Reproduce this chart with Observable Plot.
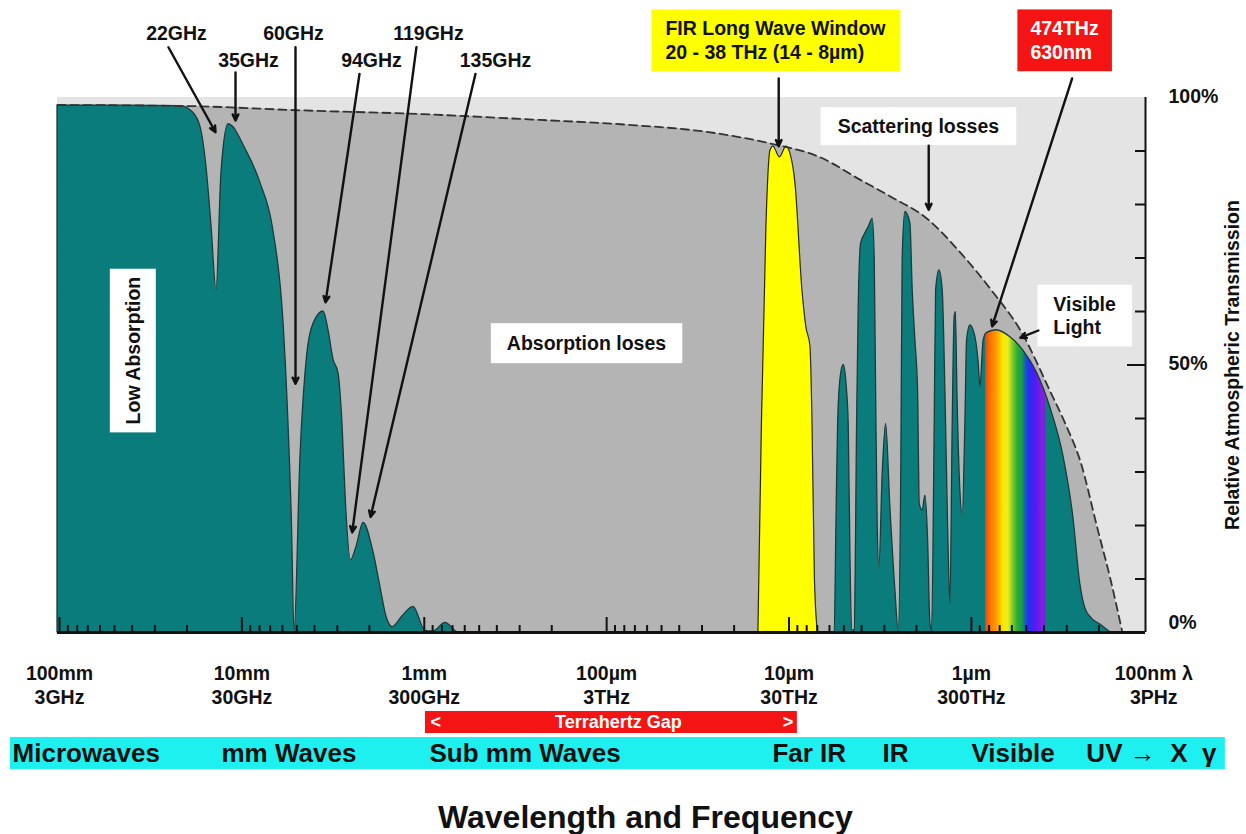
<!DOCTYPE html>
<html>
<head>
<meta charset="utf-8">
<script src="https://cdn.jsdelivr.net/npm/d3@7"></script>
<script src="https://cdn.jsdelivr.net/npm/@observablehq/plot@0.6"></script>
<style>
  html, body { margin: 0; padding: 0; background: #fff; overflow: hidden; }
  #chart svg { display: block; }
</style>
</head>
<body>
<div id="chart"></div>
<script>
// x: wavelength in µm (log scale, decreasing to the right); y: relative atmospheric transmission in %

// Atmospheric transmission (teal), [wavelength µm, %]
const transmission = [
  [102600, 98.5], [46300, 98.5], [21710, 98.4], [18660, 97.3], [16870, 94.5], [15640, 87],
  [14680, 76], [13780, 64], [12940, 86], [11840, 95], [9436, 90], [7907, 84], [6710, 75],
  [5914, 58], [5553, 39], [5313, 20], [5148, 0],
  [4772, 33], [4397, 51.5], [4051, 57.7], [3569, 60], [3351, 56.5], [3147, 51], [2954, 48.5],
  [2809, 39], [2687, 24], [2523, 13.5], [2353, 16], [2154, 20.5], [1899, 15], [1739, 8.5],
  [1612, 3], [1494, 1], [1317, 3], [1146, 4.8], [985, 0.3], [890, 0.2], [765, 1.8], [649, 0],
  [5.617, 0], [5.497, 20], [5.381, 39], [5.195, 48], [5.014, 50], [4.827, 46], [4.707, 39],
  [4.607, 15], [4.509, 0.3],
  [4.363, 0.5], [4.233, 39], [4.148, 60.8], [4.024, 72.7], [3.812, 74.6], [3.656, 75.8],
  [3.476, 77.3], [3.39, 70], [3.33, 45], [3.264, 20], [3.195, 12.2],
  [3.064, 29.7], [2.936, 39], [2.781, 23.4], [2.61, 7.8], [2.504, 0.3],
  [2.42, 32.8], [2.381, 70], [2.301, 78.6], [2.16, 76.4], [2.098, 64], [2.028, 54.6],
  [1.96, 45.2], [1.92, 24], [1.849, 22.8], [1.787, 25.6], [1.727, 17.2], [1.678, 1.7], [1.643, 0.3],
  [1.589, 39], [1.561, 64], [1.497, 67.7], [1.437, 64], [1.388, 45], [1.342, 20], [1.303, 5.4],
  [1.266, 39], [1.235, 59], [1.216, 59.9], [1.193, 45], [1.149, 26.5], [1.116, 22],
  [1.079, 39], [1.056, 54.6], [1.013, 57.4], [0.9507, 55.2], [0.912, 50.3], [0.8929, 45.9],
  [0.8563, 54.6], [0.8202, 56], [0.7294, 56.5],
  [0.6111, 55.2], [0.5187, 52.7], [0.4346, 48.4], [0.3688, 42], [0.313, 33], [0.2759, 21.5],
  [0.2526, 9], [0.2371, 4.5], [0.2171, 2.5], [0.1963, 1.5], [0.1729, 0]
];

// FIR long wave window (yellow), [wavelength µm, %]
const firWindow = [
  [14.72, 0], [14.08, 39], [13.3, 76], [12.65, 90], [12.18, 90.8], [11.22, 88.8], [10.33, 90.8],
  [9.825, 89.5], [9.224, 84], [8.444, 64], [8.028, 57], [7.632, 53.5], [7.441, 40], [7.211, 10], [6.944, 0]
];

// Scattering-loss envelope (dashed), [wavelength µm, %]
const scatterEnvelope = [
  [102600, 98.6], [19870, 98.4], [4772, 97.6], [1049, 96.9], [230.7, 95.8], [84.03, 95.0],
  [23.78, 93.2], [12.65, 91.4], [6.729, 88.8], [4.06, 84.6], [2.781, 81.5], [1.743, 77.3],
  [1.149, 71], [0.7575, 63.5], [0.5387, 56.5], [0.3688, 45], [0.3052, 39], [0.2526, 32],
  [0.2038, 19.5], [0.1729, 10], [0.1486, 0]
];

// Visible band drawn in rainbow colours (µm)
const visibleBand = [0.84, 0.39];

// Axis ticks and labels
const decadeTicks = [1e5, 1e4, 1e3, 100, 10, 1, 0.1];
const decadeLabels = ["100mm\n3GHz", "10mm\n30GHz", "1mm\n300GHz", "100µm\n3THz", "10µm\n30THz", "1µm\n300THz", "100nm λ\n3PHz"];
const minorMultipliers = [2, 3, 4, 5, 6, 7, 8, 9];
const pctTicks = [10, 20, 30, 40, 50, 60, 70, 80, 90];
const pctLabels = [[100, "100%"], [50, "50%"]];
const zeroLabel = [[0, "0%"]];

// Absorption lines: label, label position, arrow start, arrow end
const lineNotes = [
  {text: "22GHz",  lx: 22840, ly: 111.9, x1: 25290, y1: 109.4, x2: 13950, y2: 93.5},
  {text: "35GHz",  lx: 9201,  ly: 106.9, x1: 10840, y1: 104.7, x2: 10840, y2: 95.7},
  {text: "60GHz",  lx: 5213,  ly: 111.9, x1: 5083,  y1: 109.4, x2: 5083,  y2: 46.5},
  {text: "94GHz",  lx: 1947,  ly: 106.9, x1: 2266,  y1: 104.4, x2: 3480,  y2: 61.7},
  {text: "119GHz", lx: 948.4, ly: 111.9, x1: 1104,  y1: 109.4, x2: 2485,  y2: 18.7},
  {text: "135GHz", lx: 407,   ly: 106.9, x1: 524.1, y1: 104.4, x2: 1972,  y2: 21.6}
];
const otherArrows = [
  {x1: 11.39,  y1: 103.55, x2: 11.39, y2: 90.9},
  {x1: 0.2805, y1: 103.55, x2: 0.770, y2: 57.2},
  {x1: 1.714,  y1: 91.0,   x2: 1.714, y2: 79.0},
  {x1: 0.4292, y1: 56.45,  x2: 0.5387, y2: 55.1}
];

// Boxed notes
const firNote = [{text: "FIR Long Wave Window\n20 - 38 THz (14 - 8µm)", x: 47.61, y: 110.8, fill: "#ffff00", padX: 14, padY: 8}];
const redNote = [{text: "474THz\n630nm", x: 0.4748, y: 110.8, fill: "#f51414", padX: 13, padY: 8}];
const centeredNotes = [
  {text: "Scattering losses", x: 1.953, y: 94.77, fill: "#ffffff", padX: 17, padY: 8},
  {text: "Absorption loses", x: 129.0, y: 54.2, fill: "#ffffff", padX: 16, padY: 9}
];
const visibleNote = [{text: "Visible\nLight", x: 0.3552, y: 59.35, fill: "#ffffff", padX: 16, padY: 8}];
const lowNote = [{text: "Low Absorption", x: 39950, y: 52.7, fill: "#ffffff", padX: 8, padY: 12}];

// Bottom bands
const bandNames = ["Microwaves", "mm Waves", "Sub mm Waves", "Far IR", "IR", "Visible", "UV →\u00a0\u00a0X\u00a0\u00a0γ"];
const bandStarts = [181000, 12940, 936.5, 12.33, 3.075, 1.0, 0.2342];
const gapRange = [985, 9];

const XMIN = 102600, XMAX = 0.111;
const xOpts = {type: "log", domain: [XMIN, XMAX], range: [57, 1145]};
const yOpts = {domain: [0, 100], range: [632, 97]};
const xs = Plot.scale({x: xOpts});
const px = v => xs.apply(v);
const lambdaAt = p => xs.invert(p);

const FONT = "'Liberation Sans', Arial, Helvetica, sans-serif";
const FS = 19.5;
const INK = "#111";

const minorTicks = decadeTicks.flatMap(t => minorMultipliers.map(m => t * m)).filter(v => v < XMIN && v > XMAX && !decadeTicks.includes(v));
const majorTicks = decadeTicks.filter(v => v <= XMIN && v >= XMAX);

const boxGroups = [];
function boxed(notes, ink, options) {
  boxGroups.push(notes);
  return Plot.text(notes, {
    x: "x", y: "y", text: "text", fill: ink,
    fontSize: FS, fontWeight: "bold", lineAnchor: "middle", lineHeight: 1.22, ...options
  });
}

const gradientMark = () => {
  const defs = d3.create("svg:defs");
  const lg = defs.append("linearGradient")
    .attr("id", "visibleFill").attr("gradientUnits", "userSpaceOnUse")
    .attr("x1", px(visibleBand[0])).attr("x2", px(visibleBand[1])).attr("y1", 0).attr("y2", 0);
  const stops = [
    [0, "#0b7c7c"], [0, "#d8461c"], [0.08, "#ff6e00"], [0.2, "#ffa400"], [0.3, "#ffe600"],
    [0.38, "#e6f01e"], [0.45, "#8ccf28"], [0.53, "#2eae34"], [0.62, "#12984e"], [0.67, "#1658c8"],
    [0.72, "#2232f2"], [0.84, "#5a18f0"], [0.95, "#7e22e0"], [1, "#7a20d4"], [1, "#0b7c7c"]
  ];
  for (const [o, c] of stops) lg.append("stop").attr("offset", o).attr("stop-color", c);
  return defs.node();
};

const arrowStyle = {x1: "x1", y1: "y1", x2: "x2", y2: "y2", stroke: INK, fill: INK, strokeWidth: 2.4, headLength: 4.2, headAngle: 50};

const svg = Plot.plot({
  width: 1246,
  height: 834,
  margin: 0,
  x: {...xOpts, axis: null},
  y: {...yOpts, axis: null},
  style: {fontFamily: FONT, fontWeight: "bold", background: "#ffffff", overflow: "visible", color: INK},
  marks: [
    gradientMark,
    // plot background & scattering region
    Plot.rect([0], {x1: XMIN, x2: XMAX, y1: 0, y2: 100, fill: "#e4e4e4"}),
    Plot.areaY(scatterEnvelope, {x: d => d[0], y: d => d[1], fill: "#b4b4b4", curve: "monotone-x"}),
    // transmission
    Plot.areaY(transmission, {x: d => d[0], y: d => d[1], fill: "url(#visibleFill)", stroke: "#1d3a3a", strokeWidth: 1.3, curve: "monotone-x"}),
    Plot.areaY(firWindow, {x: d => d[0], y: d => d[1], fill: "#ffff00", stroke: "#2a2a10", strokeWidth: 1.2, curve: "monotone-x"}),
    Plot.line(scatterEnvelope, {x: d => d[0], y: d => d[1], stroke: "#333", strokeWidth: 1.8, strokeDasharray: "8,5", curve: "monotone-x"}),
    // axes
    Plot.ruleX(minorTicks, {y1: 0, y2: 1.3, stroke: INK, strokeWidth: 2}),
    Plot.ruleX(majorTicks, {y1: 0, y2: 2.8, stroke: INK, strokeWidth: 2}),
    Plot.ruleY([0], {x1: XMIN, x2: XMAX, stroke: INK, strokeWidth: 3}),
    Plot.ruleX([XMAX], {y1: 0, y2: 100, stroke: INK, strokeWidth: 2}),
    Plot.ruleY(pctTicks.filter(v => v !== 50), {x1: XMAX, x2: lambdaAt(px(XMAX) - 10), stroke: INK, strokeWidth: 2}),
    Plot.ruleY([50], {x1: XMAX, x2: lambdaAt(px(XMAX) - 18), stroke: INK, strokeWidth: 2}),
    Plot.text(pctLabels, {x: XMAX, y: d => d[0], text: d => d[1], dx: 23, dy: -1, textAnchor: "start", fontSize: FS, fontWeight: "bold", fill: INK}),
    Plot.text(zeroLabel, {x: XMAX, y: d => d[0], text: d => d[1], dx: 23, dy: -10, textAnchor: "start", fontSize: FS, fontWeight: "bold", fill: INK}),
    Plot.text(["Relative Atmospheric Transmission"], {x: XMAX, y: 50, dx: 87, rotate: -90, fontSize: FS, fontWeight: "bold", fill: INK}),
    Plot.text(decadeTicks, {x: d => d, y: 0, dy: 52, text: (d, i) => decadeLabels[i], lineAnchor: "middle", lineHeight: 1.2, fontSize: FS, fontWeight: "bold", fill: INK}),
    // boxed notes
    boxed(firNote, INK, {textAnchor: "start"}),
    boxed(redNote, "#ffffff", {textAnchor: "start"}),
    boxed(centeredNotes, INK, {textAnchor: "middle"}),
    boxed(visibleNote, INK, {textAnchor: "start"}),
    boxed(lowNote, INK, {textAnchor: "middle", rotate: -90}),
    // absorption line labels and arrows
    Plot.text(lineNotes, {x: "lx", y: "ly", text: "text", fontSize: FS, fontWeight: "bold", fill: INK}),
    Plot.arrow(lineNotes, arrowStyle),
    Plot.arrow(otherArrows, arrowStyle),
    // Terahertz gap bar
    Plot.rect([0], {x1: gapRange[0], x2: gapRange[1], y1: -14.77, y2: -18.88, fill: "#f51414"}),
    Plot.text(["<"], {x: gapRange[0], y: -16.82, dx: 5, textAnchor: "start", fontSize: 18, fontWeight: "bold", fill: "#fff"}),
    Plot.text([">"], {x: gapRange[1], y: -16.82, dx: -4, textAnchor: "end", fontSize: 18, fontWeight: "bold", fill: "#fff"}),
    Plot.text(["Terrahertz Gap"], {x: 86.14, y: -16.82, fontSize: 18, fontWeight: "bold", fill: "#fff"}),
    // spectrum band
    Plot.rect([0], {x1: 185700, x2: 0.0405, y1: -19.63, y2: -25.61, fill: "#1ef0f0"}),
    Plot.text(bandNames, {x: (d, i) => bandStarts[i], y: -22.6, text: d => d, textAnchor: "start", fontSize: 26, fontWeight: "bold", fill: INK}),
    // title
    Plot.text(["Wavelength and Frequency"], {x: 61.3, y: -34.6, fontSize: 32, fontWeight: "bold", fill: INK})
  ]
});

document.getElementById("chart").append(svg);

// Draw the boxes behind the boxed notes, sized from the rendered text
const NS = "http://www.w3.org/2000/svg";
const allTexts = Array.from(svg.querySelectorAll("text"));
for (const notes of boxGroups) {
  for (const n of notes) {
    const key = n.text.replace(/\n/g, "");
    const t = allTexts.find(el => el.textContent === key);
    if (!t) continue;
    const b = t.getBBox();
    const r = document.createElementNS(NS, "rect");
    r.setAttribute("x", b.x - n.padX);
    r.setAttribute("y", b.y - n.padY);
    r.setAttribute("width", b.width + 2 * n.padX);
    r.setAttribute("height", b.height + 2 * n.padY);
    r.setAttribute("fill", n.fill);
    r.setAttribute("stroke", "none");
    const tr = t.getAttribute("transform");
    if (tr) r.setAttribute("transform", tr);
    t.parentNode.insertBefore(r, t);
  }
}
</script>
</body>
</html>
